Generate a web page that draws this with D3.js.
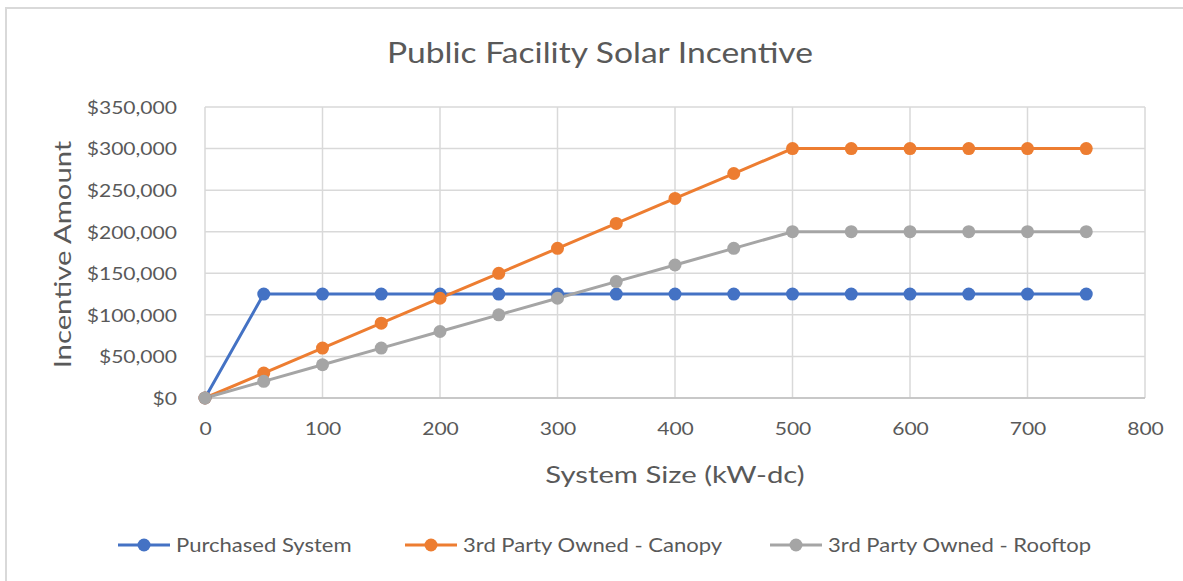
<!DOCTYPE html>
<html><head><meta charset="utf-8">
<script src="https://cdn.jsdelivr.net/npm/d3@7"></script>
<style>
html,body{margin:0;padding:0;background:#fff;}
text{font-family:Lato,"Open Sans",sans-serif;fill:#595959;}
</style></head>
<body><svg id="c" width="1183" height="581"></svg>
<script>
const sizes = [0,50,100,150,200,250,300,350,400,450,500,550,600,650,700,750];
const purchased = [0,125000,125000,125000,125000,125000,125000,125000,125000,125000,125000,125000,125000,125000,125000,125000];
const canopy = [0,30000,60000,90000,120000,150000,180000,210000,240000,270000,300000,300000,300000,300000,300000,300000];
const rooftop = [0,20000,40000,60000,80000,100000,120000,140000,160000,180000,200000,200000,200000,200000,200000,200000];
const seriesNames = ["Purchased System","3rd Party Owned - Canopy","3rd Party Owned - Rooftop"];
const xTicks = [0,100,200,300,400,500,600,700,800];
const yTicks = [0,50000,100000,150000,200000,250000,300000,350000];
const colors = ["#4472C4","#ED7D31","#A5A5A5"];

const svg = d3.select("#c");
const L=205,R=1145,T=107,B=398;
const x = d3.scaleLinear().domain([0,800]).range([L,R]);
const y = d3.scaleLinear().domain([0,350000]).range([B,T]);

function stretch(sel,k){
  sel.each(function(){
    const w=this.getComputedTextLength();
    d3.select(this).attr("textLength",w*k).attr("lengthAdjust","spacingAndGlyphs");
  });
}

// outer frame
svg.append("rect").attr("x",6).attr("y",8).attr("width",1200).attr("height",600)
  .attr("fill","#fff").attr("stroke","#D9D9D9").attr("stroke-width",2);

// grid
svg.append("g").selectAll("line").data(yTicks).join("line")
  .attr("x1",L).attr("x2",R).attr("y1",d=>y(d)).attr("y2",d=>y(d))
  .attr("stroke","#D9D9D9").attr("stroke-width",1.5);
svg.append("g").selectAll("line").data(xTicks).join("line")
  .attr("y1",T).attr("y2",B).attr("x1",d=>x(d)).attr("x2",d=>x(d))
  .attr("stroke","#D9D9D9").attr("stroke-width",1.5);
svg.append("line").attr("x1",L).attr("x2",R).attr("y1",B).attr("y2",B).attr("stroke","#BFBFBF").attr("stroke-width",1.5);

// axes labels
const fmt = d=>"$"+d3.format(",")(d);
const yAxis = d3.axisLeft(y).tickValues(yTicks).tickFormat(fmt).tickSize(0).tickPadding(28);
const gy = svg.append("g").attr("transform",`translate(${L},0)`).call(yAxis);
gy.select(".domain").remove();
gy.selectAll("text").attr("font-size",18).attr("fill","#595959").style("font-family","Lato,'Open Sans',sans-serif").attr("dy","0.35em");
stretch(gy.selectAll("text"),1.17);

const xAxis = d3.axisBottom(x).tickValues(xTicks).tickFormat(d3.format("d")).tickSize(0).tickPadding(24);
const gx = svg.append("g").attr("transform",`translate(0,${B})`).call(xAxis);
gx.select(".domain").remove();
gx.selectAll("text").attr("font-size",18).attr("fill","#595959").style("font-family","Lato,'Open Sans',sans-serif");
stretch(gx.selectAll("text"),1.17);

// series
const all = [purchased,canopy,rooftop];
const line = d3.line().x((d,i)=>x(sizes[i])).y(d=>y(d));
all.forEach((vals,k)=>{
  svg.append("path").datum(vals).attr("d",line).attr("fill","none")
    .attr("stroke",colors[k]).attr("stroke-width",3);
});
all.forEach((vals,k)=>{
  svg.append("g").selectAll("circle").data(vals).join("circle")
    .attr("cx",(d,i)=>x(sizes[i])).attr("cy",d=>y(d)).attr("r",6.5).attr("fill",colors[k]);
});

// titles
const t1 = svg.append("text").attr("x",600).attr("y",63).attr("text-anchor","middle").attr("font-size",28).text("Public Facility Solar Incentive");
stretch(t1,1.2);
const t2 = svg.append("text").attr("x",675).attr("y",483).attr("text-anchor","middle").attr("font-size",24).text("System Size (kW-dc)");
stretch(t2,1.22);
const t3 = svg.append("text").attr("transform",`translate(71,${(T+B)/2+2}) rotate(-90)`).attr("text-anchor","middle").attr("font-size",24).text("Incentive Amount");
stretch(t3,1.22);

// legend
const legX = [118,405,770];
seriesNames.forEach((n,k)=>{
  const g = svg.append("g").attr("transform",`translate(${legX[k]},545)`);
  g.append("line").attr("x1",0).attr("x2",52).attr("stroke",colors[k]).attr("stroke-width",3);
  g.append("circle").attr("cx",26).attr("r",6.5).attr("fill",colors[k]);
  const t = g.append("text").attr("x",58).attr("y",0).attr("dy","0.35em").attr("font-size",19).text(n);
  stretch(t,1.16);
});
</script></body></html>
